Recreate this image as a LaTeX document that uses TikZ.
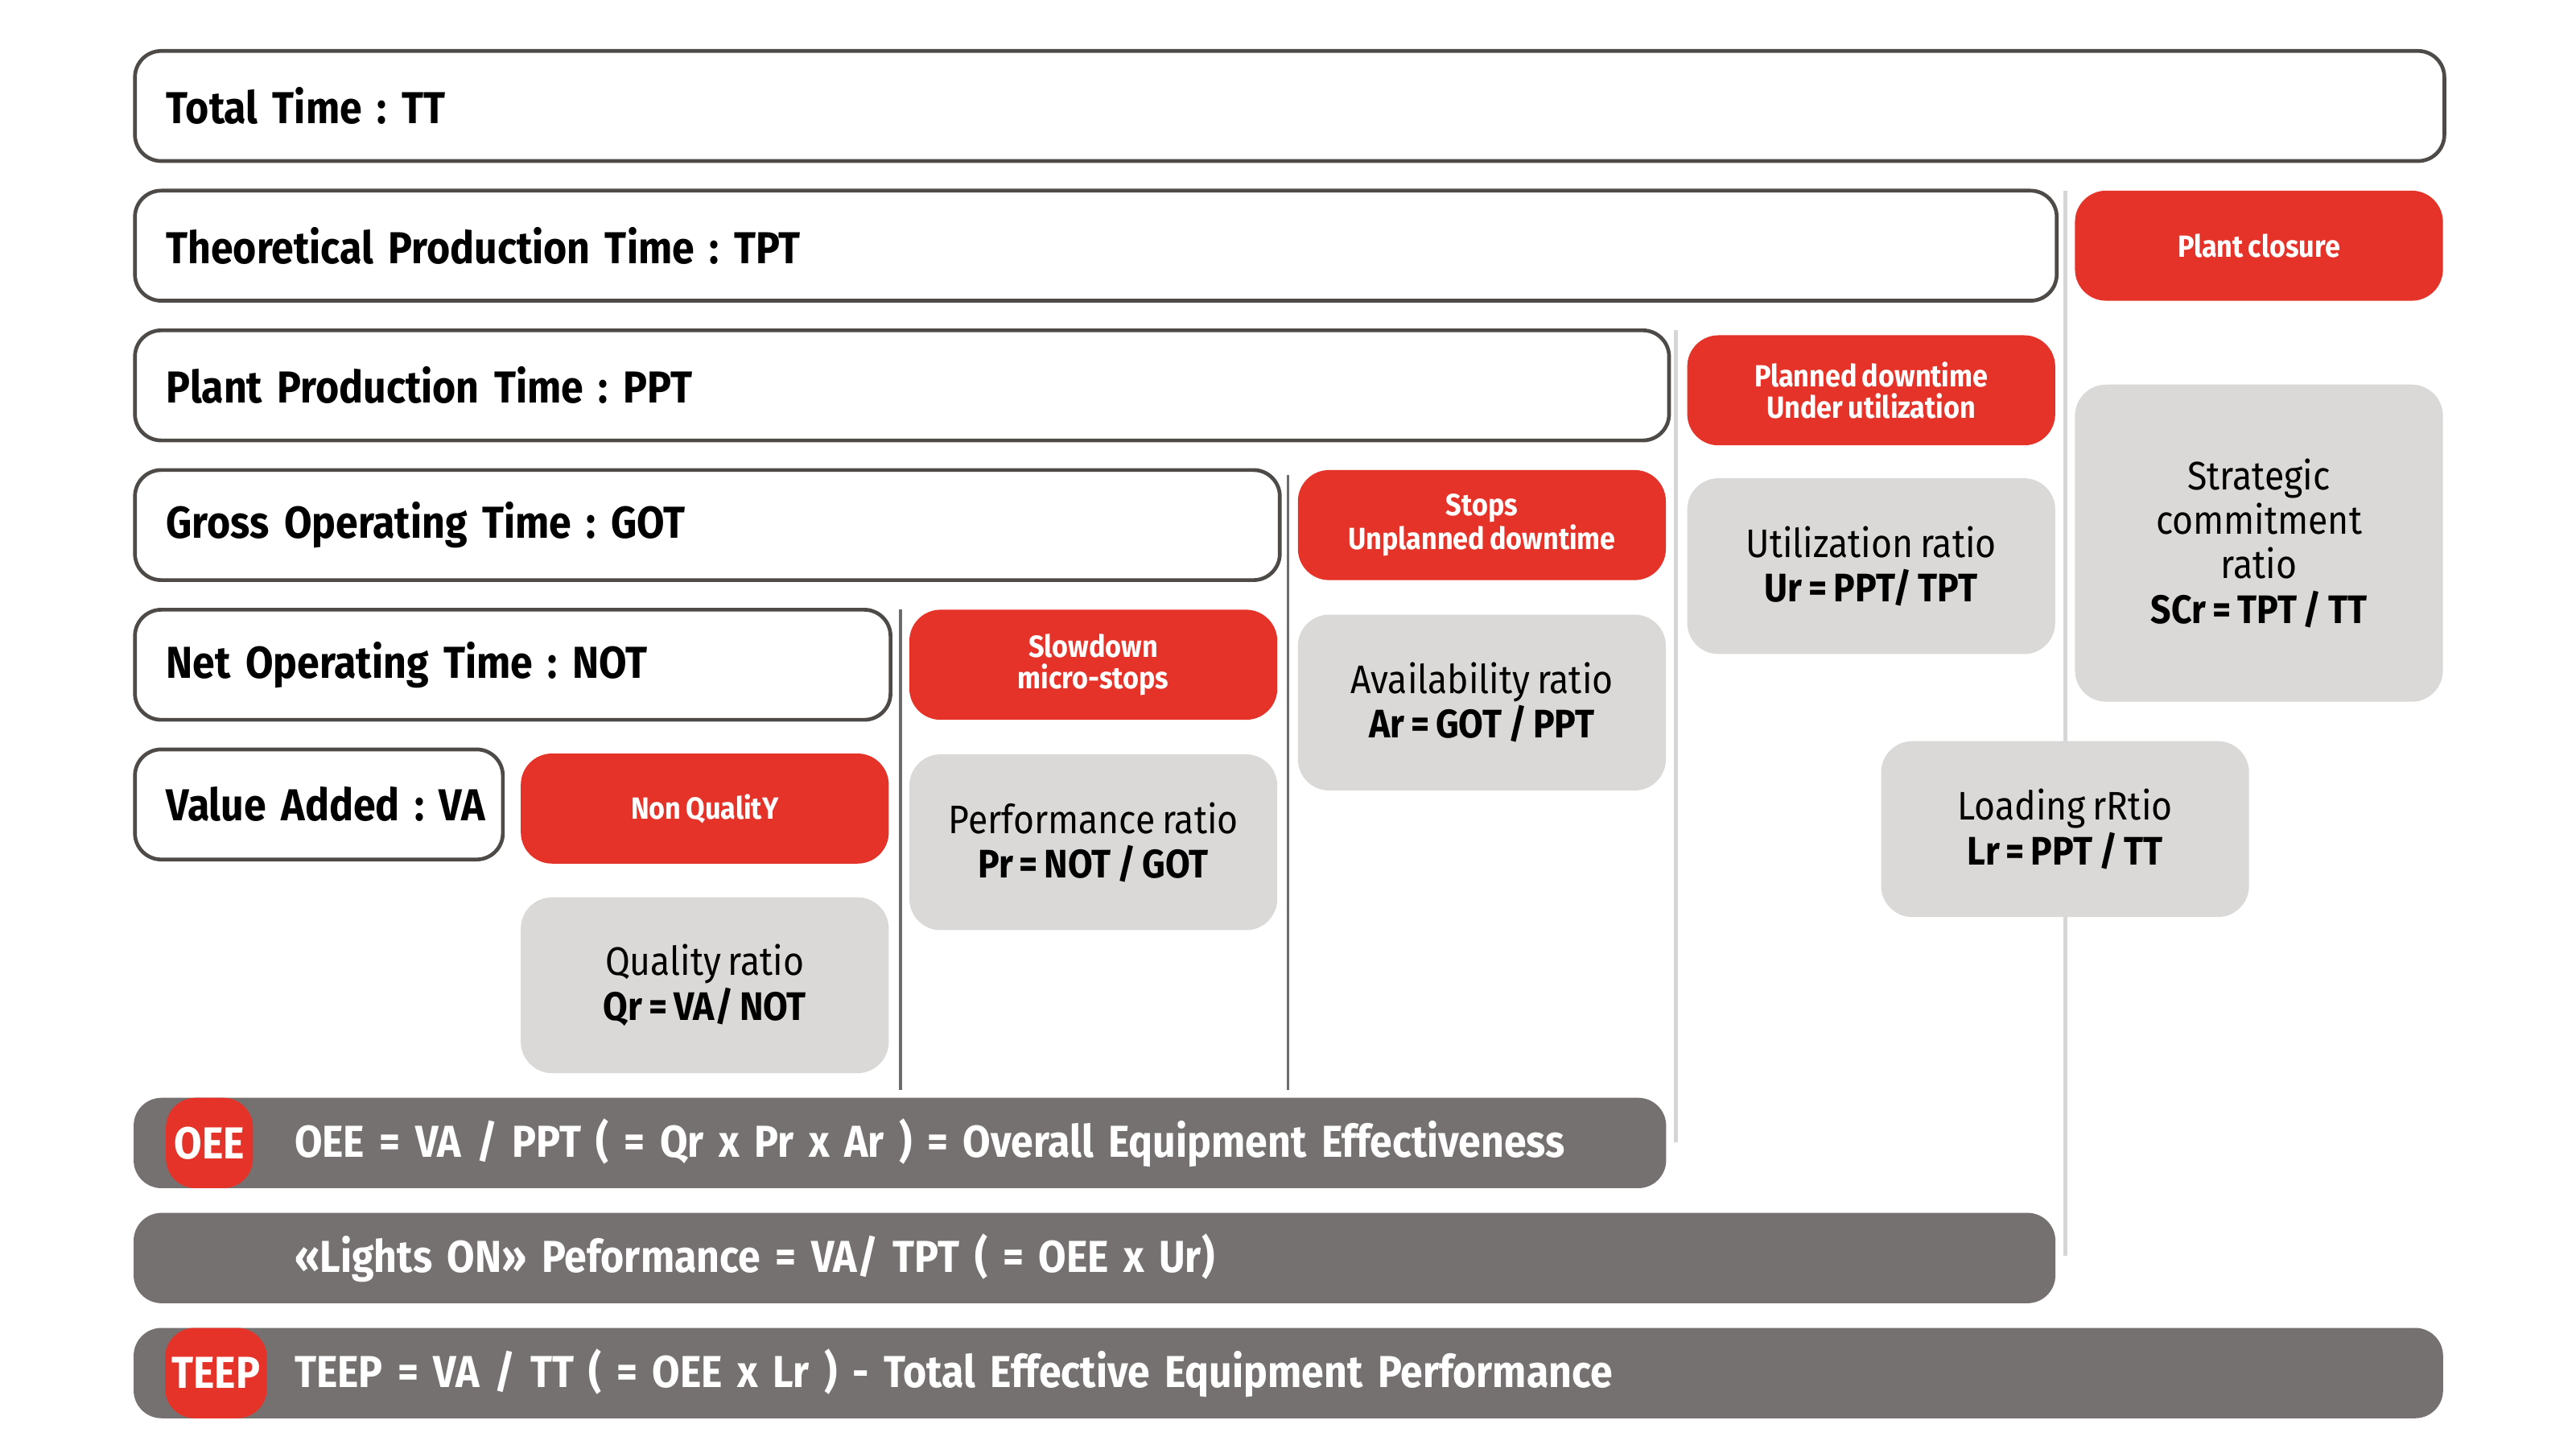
\documentclass[tikz,border=0pt]{standalone}
\usepackage{fontspec}
\setmainfont{Fira Sans}[FakeStretch=0.9, WordSpace=0.75]
\frenchspacing
\definecolor{redc}{HTML}{E6332A}
\definecolor{greyc}{HTML}{DAD9D7}
\definecolor{barc}{HTML}{757170}
\definecolor{edgec}{HTML}{4D4A48}
\definecolor{lined}{HTML}{6E6C6B}
\definecolor{linel}{HTML}{D6D6D6}
\tikzset{
  titlebox/.style={draw=edgec, line width=1.3pt, fill=white, rounded corners=0.32cm,
    anchor=west, minimum height=1.34cm, inner xsep=0.38cm, inner ysep=0pt, align=left,
    font=\fontsize{15.5}{17}\selectfont\bfseries, text=black},
  lossbox/.style={fill=redc, rounded corners=0.38cm, minimum width=4.48cm, minimum height=1.34cm,
    inner sep=0pt, align=center, text=white, font=\fontsize{10.6}{10.8}\selectfont\bfseries},
  ratiobox/.style={fill=greyc, rounded corners=0.38cm, minimum width=4.48cm, minimum height=2.14cm,
    inner sep=0pt, align=center, text=black, font=\fontsize{13.8}{15.4}\selectfont},
  kpibar/.style={fill=barc, rounded corners=0.34cm, anchor=west, minimum height=1.1cm,
    inner xsep=1.96cm, inner ysep=0pt, align=left, text=white, font=\fontsize{15.5}{17}\selectfont\bfseries},
  pill/.style={fill=redc, rounded corners=0.36cm, minimum height=1.1cm, inner sep=0pt,
    text=white, font=\fontsize{15.5}{17}\selectfont\bfseries},
  darkrule/.style={draw=lined, line width=1.1pt},
  lightrule/.style={draw=linel, line width=1.4pt}
}
\begin{document}
\begin{tikzpicture}[x=0.02cm,y=-0.02cm]
\useasboundingbox[fill=white] (0,0) rectangle (1568,879);

% separator lines
\coordinate (l1a) at (548,371); \coordinate (l1b) at (548,663);
\coordinate (l2a) at (784,289); \coordinate (l2b) at (784,663);
\coordinate (l3a) at (1020,201); \coordinate (l3b) at (1020,695);
\coordinate (l4a) at (1257,116); \coordinate (l4b) at (1257,764);
\draw[darkrule] (l1a) -- (l1b);
\draw[darkrule] (l2a) -- (l2b);
\draw[lightrule] (l3a) -- (l3b);
\draw[lightrule] (l4a) -- (l4b);

% time boxes
\node[titlebox, text width=27.36cm] (tt)  at (81,64.5)  {\mbox{Total Time : TT}};
\node[titlebox, text width=22.64cm] (tpt) at (81,149.5) {\mbox{Theoretical Production Time : TPT}};
\node[titlebox, text width=17.92cm] (ppt) at (81,234.5) {\mbox{Plant Production Time : PPT}};
\node[titlebox, text width=13.18cm] (got) at (81,319.5) {\mbox{Gross Operating Time : GOT}};
\node[titlebox, text width=8.44cm]  (not) at (81,404.5) {\mbox{Net Operating Time : NOT}};
\node[titlebox, text width=3.72cm]  (va)  at (81,489.5) {\mbox{Value Added : VA}};

% losses
\node[lossbox] (closure) at (1375,149.5) {Plant closure};
\node[lossbox] (planned) at (1139,237.5) {Planned downtime\\Under utilization};
\node[lossbox] (stops)   at (902,319.5)  {Stops\\Unplanned downtime};
\node[lossbox] (slow)    at (665.5,404.5) {Slowdown\\micro-stops};
\node[lossbox] (nq)      at (429,492)    {Non QualitY};

% ratios
\node[ratiobox, minimum height=3.86cm] (scr) at (1375,330.5) {Strategic\\commitment\\ratio\\\textbf{SCr = TPT / TT}};
\node[ratiobox] (ur) at (1139,344.5) {Utilization ratio\\\textbf{Ur = PPT/ TPT}};
\node[ratiobox] (ar) at (902,427.5)  {Availability ratio\\\textbf{Ar = GOT / PPT}};
\node[ratiobox] (pr) at (665.5,512.5) {Performance ratio\\\textbf{Pr = NOT / GOT}};
\node[ratiobox] (lr) at (1257,504.5) {Loading rRtio\\\textbf{Lr = PPT / TT}};
\node[ratiobox] (qr) at (429,599.5)  {Quality ratio\\\textbf{Qr = VA/ NOT}};

% KPI bars
\node[kpibar, text width=14.74cm] (oee)    at (81,695.5) {\mbox{OEE = VA / PPT ( = Qr x Pr x Ar ) = Overall Equipment Effectiveness}};
\node[kpibar, text width=19.48cm] (lights) at (81,765.5) {\mbox{«Lights ON» Peformance = VA/ TPT ( = OEE x Ur)}};
\node[kpibar, text width=24.2cm]  (teep)   at (81,835.5) {\mbox{TEEP = VA / TT ( = OEE x Lr ) - Total Effective Equipment Performance}};
\node[pill, minimum width=1.06cm] (oeetag)  at (127.5,695.5) {OEE};
\node[pill, minimum width=1.24cm] (teeptag) at (131.5,835.5) {TEEP};
\end{tikzpicture}
\end{document}
